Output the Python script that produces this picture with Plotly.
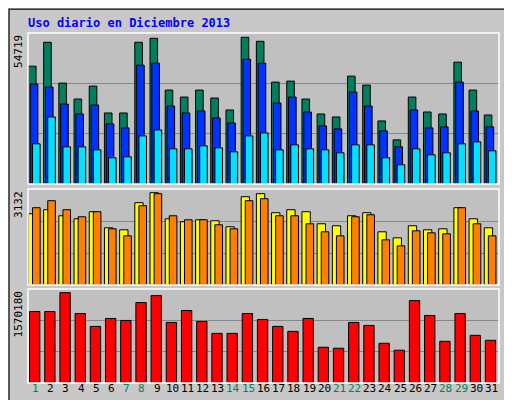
import plotly.graph_objects as go

days = [str(d) for d in range(1, 32)]
green_days = {1, 7, 8, 14, 15, 21, 22, 28, 29}

accesos = [43950, 52863, 37635, 31693, 36521, 26493, 26493, 52863, 54348, 35035, 32436, 35035, 32064, 27607, 54719, 53234,
           38007, 38378, 31693, 26122, 25008, 40235, 36892, 23522, 16465, 32436, 26865, 26122, 45435, 35035, 25750]
archivos = [37264, 36150, 29836, 26122, 29464, 22408, 20922, 44320, 45063, 29093, 26493, 27236, 24636, 22779, 46549, 45063,
            30207, 32436, 26865, 21665, 20551, 34293, 29093, 19808, 13866, 27607, 20922, 21294, 38007, 27236, 21294]
paginas = [14980, 25008, 13866, 13866, 12751, 9780, 10152, 17951, 20179, 13123, 13123, 14237, 13494, 12009, 17951, 19065,
           12751, 14608, 13123, 12751, 11637, 14608, 14608, 9780, 7180, 13123, 10894, 11637, 14980, 15723, 12380]
visitas = [2417, 2554, 2349, 2247, 2486, 1941, 1873, 2792, 3132, 2247, 2145, 2213, 2179, 1975, 2996, 3098,
           2452, 2554, 2486, 2077, 2009, 2349, 2452, 1805, 1600, 2009, 1873, 1907, 2622, 2247, 1941]
clientes = [2622, 2860, 2554, 2315, 2486, 1907, 1668, 2690, 3098, 2349, 2213, 2213, 2043, 1907, 2860, 2928,
            2349, 2349, 2077, 1805, 1668, 2315, 2383, 1532, 1328, 1839, 1771, 1737, 2622, 2077, 1668]
kbytes = [1242346, 1242346, 1570180, 1207836, 983524, 1121562, 1087052, 1397639, 1518422, 1052543, 1259601, 1069797,
          862740, 862740, 1207836, 1104307, 983524, 897250, 1121562, 621173, 603918, 1052543, 1000778, 690192, 569408,
          1432149, 1173326, 724701, 1207836, 828229, 741955]

x = list(range(1, 32))
line = dict(color='#000000', width=1)
fig = go.Figure()


def bar(y, color, off, w, ax):
    fig.add_trace(go.Bar(x=x, y=y, marker=dict(color=color, line=line), offset=off, width=w,
                         xaxis='x' + ax, yaxis='y' + ax, hoverinfo='y'))


bar(accesos, '#007f5f', -0.47, 0.5, '')
bar(archivos, '#0033ff', -0.35, 0.5, '')
bar(paginas, '#00e0ff', -0.2, 0.5, '')
bar(visitas, '#ffff00', -0.47, 0.55, '2')
bar(clientes, '#ff8000', -0.2, 0.5, '2')
bar(kbytes, '#ff0000', -0.4, 0.68, '3')

dom = [20 / 512, 491 / 512]
maxes = [54719 * 455 / 442, 3132 * 287 / 276, 1570180 * 284 / 273]
ydoms = [[0.56, 0.9375], [0.3075, 0.5475], [0.0625, 0.2975]]
layout = dict(
    width=512, height=400, margin=dict(l=0, r=0, t=0, b=0),
    paper_bgcolor='#c8c8c8', plot_bgcolor='#c0c0c0', showlegend=False,
    barmode='overlay', font=dict(family='DejaVu Sans Mono', size=11, color='#000000'),
)
for i, ax in enumerate(['', '2', '3']):
    layout['xaxis' + ax] = dict(domain=dom, range=[0.5, 31.5], showticklabels=False, showgrid=False,
                                zeroline=False, anchor='y' + ax)
    layout['yaxis' + ax] = dict(domain=ydoms[i], range=[0, maxes[i]], tickvals=[maxes[i] / 3, maxes[i] * 2 / 3],
                                showticklabels=False, gridcolor='#888888', gridwidth=1, zeroline=False,
                                anchor='x' + ax)
fig.update_layout(**layout)

shapes = [dict(type='rect', xref='paper', yref='paper', x0=0.002, x1=0.998, y0=0.003, y1=0.997,
               line=dict(color='#333333', width=1.5))]
for d in ydoms:
    shapes.append(dict(type='rect', xref='paper', yref='paper', x0=dom[0], x1=dom[1], y0=d[0], y1=d[1],
                       line=dict(color='#ffffff', width=1.5)))
fig.update_layout(shapes=shapes)

ann = [dict(text='<b>Uso diario en Diciembre 2013</b>', x=0.035, y=0.985, xref='paper', yref='paper',
            xanchor='left', yanchor='top', showarrow=False, font=dict(color='#0000ff', size=12))]
for d, lab in zip(ydoms, ['54719', '3132', '1570180']):
    ann.append(dict(text=lab, x=dom[0] - 0.002, y=d[1], xref='paper', yref='paper', xanchor='right', yanchor='top',
                    textangle=-90, showarrow=False, font=dict(size=11)))
right = [
    (ydoms[0], '<span style="color:#00e0ff">Páginas</span> / <span style="color:#0033ff">Archivos</span> / '
               '<span style="color:#007f5f">Accesos</span>', 10),
    (ydoms[1], '<span style="color:#ff8000">Clientes</span> / <span style="color:#e0e000">Visitas</span>', 11),
    (ydoms[2], '<span style="color:#ff0000">KBytes</span>', 11),
]
for d, t, s in right:
    ann.append(dict(text=t, x=dom[1] + 0.004, y=d[1], xref='paper', yref='paper', xanchor='left', yanchor='top',
                    textangle=-90, showarrow=False, font=dict(size=s, color='#333333')))
for d in x:
    ann.append(dict(text=days[d - 1], x=d, y=0.028, xref='x3', yref='paper', showarrow=False,
                    font=dict(size=11, color='#008060' if d in green_days else '#000000')))
fig.update_layout(annotations=ann)

fig.write_html("out.html")
